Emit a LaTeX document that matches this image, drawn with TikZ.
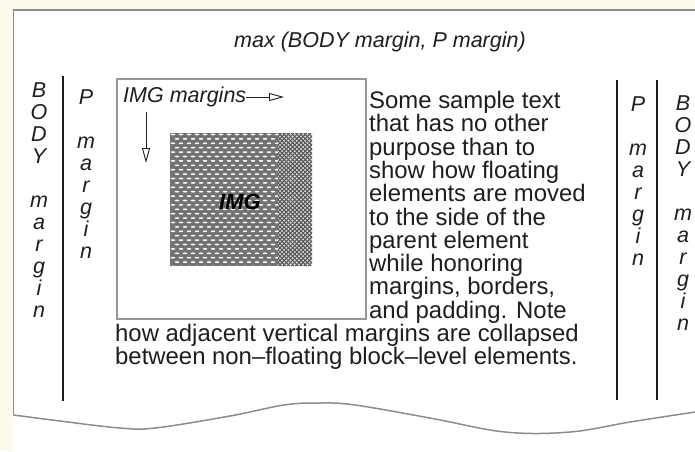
\documentclass[tikz,border=0pt]{standalone}
\usepackage{fontspec}
\setmainfont{Liberation Sans}
\usetikzlibrary{arrows.meta}
\definecolor{paper}{RGB}{252,250,236}
\definecolor{framegray}{RGB}{140,140,140}
\definecolor{boxgray}{RGB}{150,150,150}
\definecolor{ink}{RGB}{30,30,30}
\definecolor{imgdark}{RGB}{115,115,115}
\definecolor{hatchgray}{RGB}{85,85,85}
\tikzset{hollow/.style={draw=ink, line width=0.9pt, -{Triangle[open, length=15pt, width=8pt]}}}

\begin{document}
\begin{tikzpicture}[x=1pt, y=-1pt]
\tikzstyle{margintext} = [font=\itshape\fontsize{21.5}{22}\selectfont, text=ink, inner sep=0pt]
\tikzstyle{letters} = [margintext, align=center, anchor=north]
\tikzstyle{bodytext} = [font=\fontsize{23.9}{23.3}\selectfont, text=ink, inner sep=0pt, align=left, anchor=north west]
\tikzstyle{thickrule} = [draw=ink, line width=2.6pt]

% page
    \useasboundingbox (0,0) rectangle (695,451);
    \fill[paper] (0,0) rectangle (695,451);
    \fill[white] (13,9) rectangle (695,451);
    \draw[framegray, line width=1.5pt] (695,10) -- (13.5,10) -- (13.5,415);
    \draw[framegray, line width=1.5pt] plot[smooth, tension=0.6] coordinates {(13.5,415) (60,421) (120,428) (155,428) (230,416) (284,405) (319,403) (355,405) (430,418) (505,432) (570,432) (630,422) (695,412)};
% margin rules
    \draw[thickrule] (63,76) -- (63,401);
    \draw[thickrule] (617,80) -- (617,400);
    \draw[thickrule] (657,80) -- (657,400);
% float box and image
    \draw[boxgray, line width=1.1pt] (117,79) rectangle (366,319);
    \begin{scope}
    \clip (170,133) rectangle (278,266);
    \fill[imgdark] (170,133) rectangle (278,266);
    \foreach \row in {0,...,30}{
        \pgfmathsetmacro\yy{134.5+4.4*\row}
        \pgfmathsetmacro\off{mod(\row,2)*4}
        \foreach \col in {0,...,14}{
            \fill[white] ({173+\off+8*\col},\yy) ellipse (2.3 and 0.85);
        }
    }
    \end{scope}
    \begin{scope}
    \clip (278,133) rectangle (312,266);
    \fill[white!85!black] (278,133) rectangle (312,266);
    \foreach \k in {0,...,42}{
        \draw[hatchgray, line width=1pt] ({140+4.2*\k},133) -- ++(133,133);
        \draw[hatchgray, line width=1pt] ({140+4.2*\k},266) -- ++(133,-133);
    }
    \end{scope}
    \node[font=\bfseries\itshape\fontsize{22}{22}\selectfont, text=black, inner sep=0pt] (img) at (240,202) {IMG};

% labels
    \node[margintext] (title) at (380,42) {max (BODY margin, P margin)};
    \node[margintext, anchor=west] (imgmargins) at (123,97) {IMG margins};
    \coordinate (righttip) at (284,97);
    \coordinate (downtop) at (146,112);
    \coordinate (downtip) at (146,163);
    \path [hollow] (imgmargins.east) -- (righttip);
    \path [hollow] (downtop) -- (downtip);

% margin columns
    \node[letters] (bodyleft) at (39,82) {B\\O\\D\\Y\\[22pt]m\\a\\r\\g\\i\\n};
    \node[letters] (pleft) at (86,89) {P\\[22pt]m\\a\\r\\g\\i\\n};
    \node[letters] (pright) at (638,96) {P\\[22pt]m\\a\\r\\g\\i\\n};
    \node[letters] (bodyright) at (683,95) {B\\O\\D\\Y\\[22pt]m\\a\\r\\g\\i\\n};

% text
    \node[bodytext] (floattext) at (369,91) {Some sample text\\
that has no other\\
purpose than to\\
show how floating\\
elements are moved\\
to the side of the\\
parent element\\
while honoring\\
margins, borders,\\
and padding. Note};
    \node[bodytext] (belowtext) at (115,324) {how adjacent vertical margins are collapsed\\
between non–floating block–level elements.};
\end{tikzpicture}
\end{document}
